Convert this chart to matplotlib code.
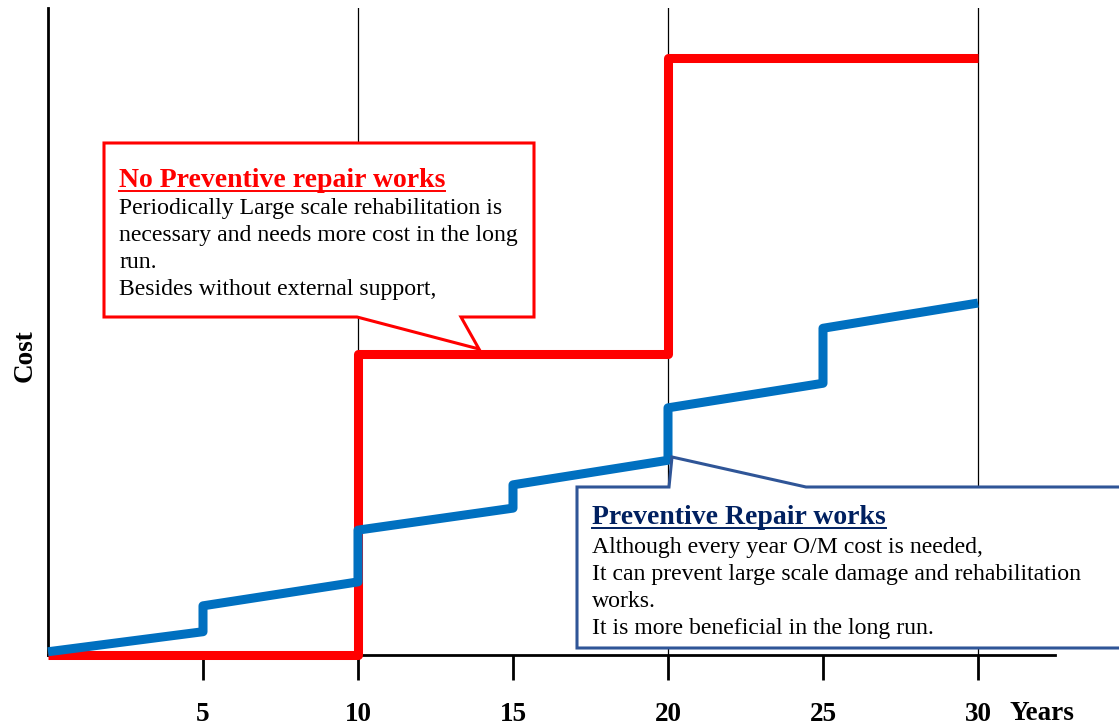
import matplotlib
matplotlib.use("Agg")
import matplotlib.pyplot as plt
from matplotlib.patches import Polygon
from matplotlib.lines import Line2D

# ---- data ----
years_ticks = [5, 10, 15, 20, 25, 30]
grid_years = [10, 20, 30]

no_prev_x = [0, 10, 10, 20, 20, 30]
no_prev_y = [0, 0, 46.5, 46.5, 92.3, 92.3]

prev_x = [0, 5, 5, 10, 10, 15, 15, 20, 20, 25, 25, 30]
prev_y = [0.5, 3.6, 7.6, 11.3, 19.3, 22.7, 26.3, 30.1, 38.2, 42.0, 50.5, 54.4]

red_title = "No Preventive repair works"
red_lines = ["Periodically Large scale rehabilitation is",
             "necessary and needs more cost in the long",
             "run.",
             "Besides without external support,"]
blue_title = "Preventive Repair works"
blue_lines = ["Although every year O/M cost is needed,",
              "It can prevent large scale damage and rehabilitation",
              "works.",
              "It is more beneficial in the long run."]

plt.rcParams['font.family'] = ['Liberation Serif', 'DejaVu Serif']

W, H = 1119, 725
fig = plt.figure(figsize=(W / 100, H / 100), dpi=100)
fig.patch.set_facecolor('white')

ax_left, ax_right, ax_bottom, ax_top = 48, 1055, 655, 8
ax = fig.add_axes([ax_left / W, 1 - ax_bottom / H,
                   (ax_right - ax_left) / W, (ax_bottom - ax_top) / H])
px_per_year = 31.0
ax.set_xlim(0, (ax_right - ax_left) / px_per_year)
ax.set_ylim(0, 100)

for s in ['top', 'right']:
    ax.spines[s].set_visible(False)
ax.spines['left'].set_linewidth(2.0)
ax.spines['bottom'].set_linewidth(2.0)
ax.set_yticks([])
ax.set_xticks(years_ticks)
ax.set_xticklabels([str(t) for t in years_ticks], fontsize=19.5, fontweight='bold')
ax.tick_params(axis='x', direction='out', length=18, width=2.0, pad=15.5)

# vertical gridlines at 10, 20, 30
for g in grid_years:
    ax.plot([g, g], [0, 100], color='black', lw=0.9, zorder=1)

ax.plot(no_prev_x, no_prev_y, color='#FF0000', lw=6.5, solid_joinstyle='round',
        solid_capstyle='butt', zorder=3, clip_on=False)
ax.plot(prev_x, prev_y, color='#0070C0', lw=6.5, solid_joinstyle='round',
        solid_capstyle='butt', zorder=3, clip_on=False)


def px2d(px, py):
    return ((px - ax_left) / px_per_year, (ax_bottom - py) / (ax_bottom - ax_top) * 100)


# red callout
red_poly = [px2d(104, 143), px2d(534, 143), px2d(534, 317), px2d(461, 317),
            px2d(479, 349), px2d(357, 317), px2d(104, 317)]
ax.add_patch(Polygon(red_poly, closed=True, facecolor='white', edgecolor='#FF0000',
                     lw=2.2, zorder=5, clip_on=False, joinstyle='miter'))

# blue callout
blue_poly = [px2d(577, 487), px2d(669, 487), px2d(672, 457), px2d(806, 487),
             px2d(1130, 487), px2d(1130, 648), px2d(577, 648)]
ax.add_patch(Polygon(blue_poly, closed=True, facecolor='white', edgecolor='#2F5597',
                     lw=2.2, zorder=5, clip_on=False, joinstyle='miter'))


def ftext(px, py, s, **kw):
    return fig.text(px / W, 1 - py / H, s, va='baseline', ha='left', zorder=10, **kw)


renderer = fig.canvas.get_renderer()


def underline(t, color, py):
    bb = t.get_window_extent(renderer=renderer)
    x0, x1 = bb.x0 / W, bb.x1 / W
    y = 1 - py / H
    fig.add_artist(Line2D([x0, x1], [y, y], color=color, lw=1.4, zorder=10))


# red texts
t = ftext(119, 187, red_title, fontsize=20.0, fontweight='bold', color='#FF0000')
underline(t, '#FF0000', 191)
for i, line in enumerate(red_lines):
    ftext(119, 214 + i * 27, line, fontsize=17.1, color='black')

# blue texts
t = ftext(592, 524, blue_title, fontsize=20.0, fontweight='bold', color='#002060')
underline(t, '#002060', 528)
for i, line in enumerate(blue_lines):
    ftext(592, 553 + i * 27, line, fontsize=17.1, color='black')

# axis labels
fig.text(25 / W, 1 - 356 / H, "Cost", rotation=90, fontsize=19.5, fontweight='bold',
         ha='center', va='center')
fig.text(1009 / W, 1 - 720 / H, "Years", fontsize=19.5, fontweight='bold',
         ha='left', va='baseline')

fig.savefig("out.png", dpi=100, facecolor='white')
